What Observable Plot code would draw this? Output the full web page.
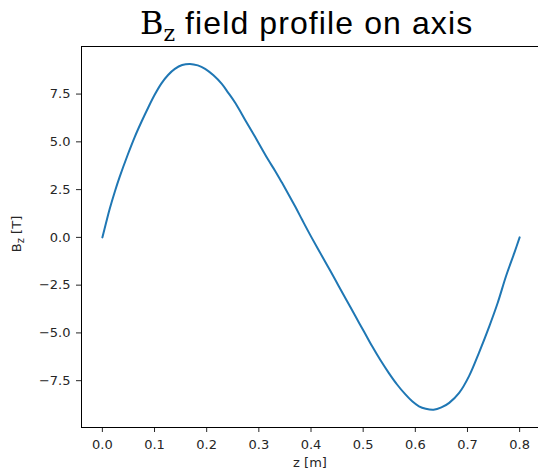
<!DOCTYPE html>
<html>
<head>
<meta charset="utf-8">
<script src="https://cdn.jsdelivr.net/npm/d3@7"></script>
<script src="https://cdn.jsdelivr.net/npm/@observablehq/plot@0.6"></script>
<style>
  html, body { margin: 0; padding: 0; background: #fff; }
  #wrap { width: 538px; height: 474px; position: relative; overflow: hidden; }
  #title { position: relative; height: 40px; width: 538px; }
  #title span.t { position: absolute; left: 140px; top: 3px; line-height: 40px; white-space: nowrap; font-size: 32px; color: #000; }
  .sans { font-family: "Liberation Sans", Arial, sans-serif; letter-spacing: 1.1px; }
  .serif { font-family: "DejaVu Serif", serif; }
</style>
</head>
<body>
<div id="wrap">
  <div id="title"><span class="t"><span class="serif">B<sub style="font-size:22px; vertical-align:-7px; line-height:0;">z</sub></span><span class="sans"> field profile on axis</span></span></div>
  <div id="chart"></div>
</div>
<script>
const zValues = [0, 0.007, 0.014, 0.024, 0.033, 0.049, 0.062, 0.075, 0.088, 0.100, 0.113, 0.126, 0.139, 0.153, 0.168, 0.183, 0.197, 0.213, 0.229, 0.241, 0.254, 0.267, 0.280, 0.293, 0.306, 0.318, 0.331, 0.344, 0.357, 0.370, 0.383, 0.395, 0.401, 0.421, 0.437, 0.453, 0.469, 0.485, 0.501, 0.517, 0.533, 0.549, 0.565, 0.581, 0.594, 0.607, 0.620, 0.635, 0.650, 0.665, 0.684, 0.703, 0.722, 0.742, 0.758, 0.774, 0.790, 0.800];
const bzValues = [0, 0.75, 1.48, 2.4, 3.15, 4.35, 5.25, 6.05, 6.8, 7.45, 8.05, 8.5, 8.82, 9.02, 9.08, 9.0, 8.82, 8.48, 8.03, 7.58, 7.07, 6.47, 5.85, 5.25, 4.63, 4.06, 3.49, 2.88, 2.25, 1.6, 0.92, 0.3, 0, -0.97, -1.75, -2.54, -3.33, -4.12, -4.9, -5.69, -6.42, -7.09, -7.7, -8.22, -8.58, -8.84, -8.97, -9.02, -8.9, -8.66, -8.14, -7.26, -6.04, -4.64, -3.42, -2.02, -0.80, 0];
const xTicks = [0, 0.1, 0.2, 0.3, 0.4, 0.5, 0.6, 0.7, 0.8];
const yTicks = [-7.5, -5, -2.5, 0, 2.5, 5, 7.5];
const xLabel = "z [m]";
const yLabelMain = "B", yLabelSub = "z", yLabelUnit = " [T]";

const data = zValues.map((z, i) => ({z, bz: bzValues[i]}));

const chart = Plot.plot({
  width: 538,
  height: 434,
  marginTop: 6,
  marginBottom: 47,
  marginLeft: 81,
  marginRight: -2,
  style: {fontFamily: "DejaVu Sans", fontSize: "13px", color: "#262626", background: "white", overflow: "visible"},
  x: {domain: [-0.04, 0.84], ticks: xTicks, tickFormat: d3.format(".1f"), tickSize: 5, tickPadding: 7, label: null},
  y: {domain: [-9.95, 9.99], ticks: yTicks, tickFormat: d3.format(".1f"), tickSize: 5, tickPadding: 6, label: null},
  marks: [
    Plot.frame({stroke: "#000", strokeWidth: 1}),
    Plot.line(data, {x: "z", y: "bz", stroke: "#1f77b4", strokeWidth: 2, curve: "catmull-rom"})
  ]
});
document.getElementById("chart").appendChild(chart);

const svg = d3.select(chart);
svg.append("text")
  .attr("x", 310).attr("y", 387)
  .attr("dy", 40)
  .attr("text-anchor", "middle")
  .attr("font-family", "DejaVu Sans").attr("font-size", 13).attr("fill", "#262626")
  .text(xLabel);
const yl = svg.append("text")
  .attr("transform", "translate(21,194) rotate(-90)")
  .attr("text-anchor", "middle")
  .attr("font-family", "DejaVu Sans").attr("font-size", 13).attr("fill", "#262626");
yl.append("tspan").text(yLabelMain);
yl.append("tspan").attr("font-size", 10).attr("dy", 3).text(yLabelSub);
yl.append("tspan").attr("dy", -3).text(yLabelUnit);
</script>
</body>
</html>
